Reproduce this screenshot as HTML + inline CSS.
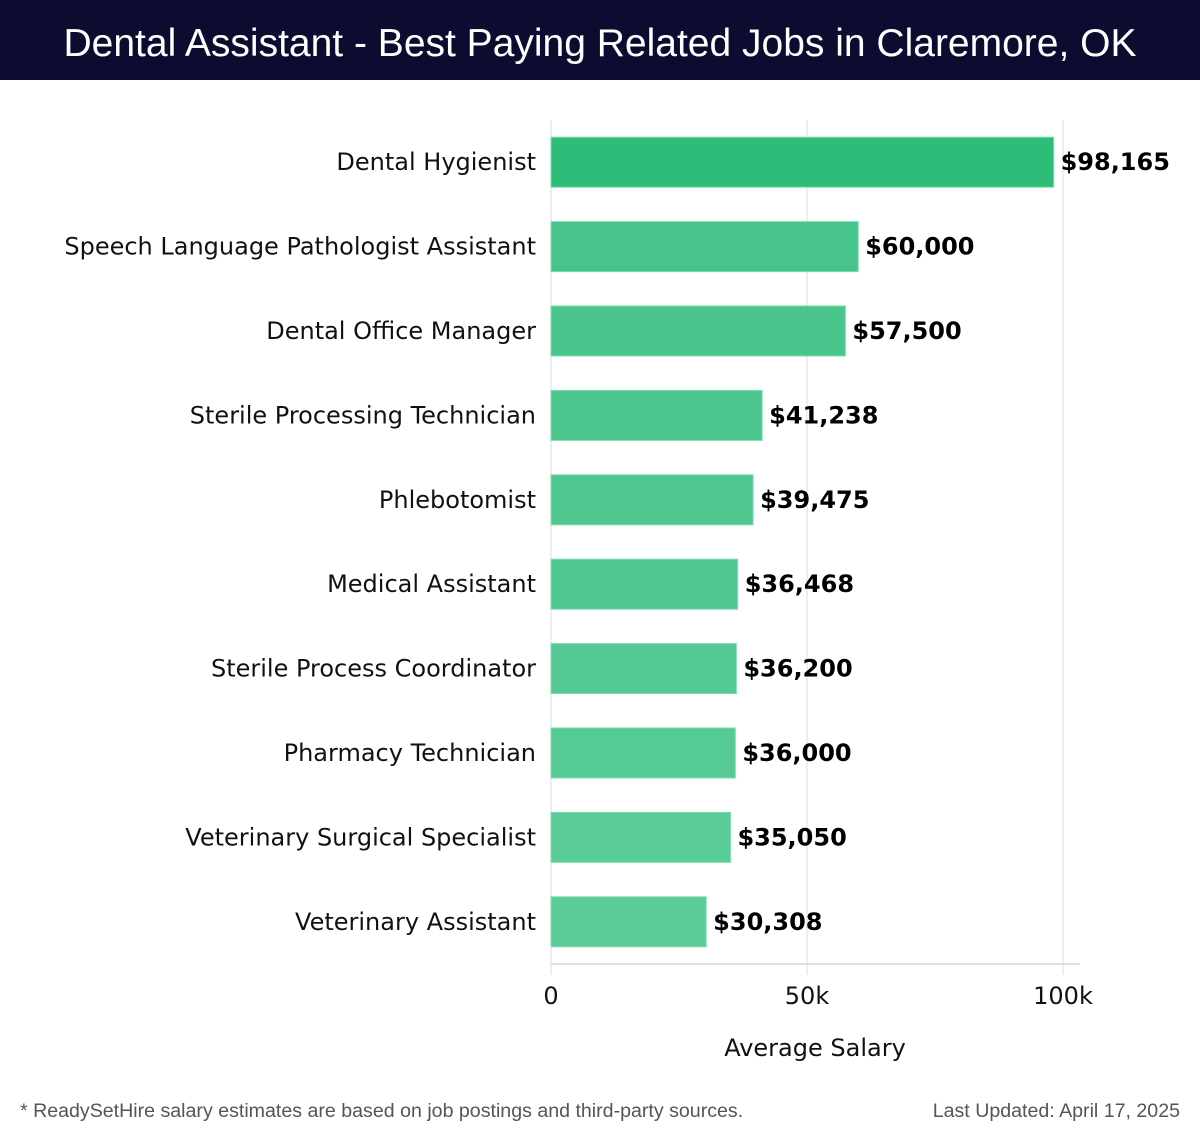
<!DOCTYPE html>
<html><head><meta charset="utf-8"><style>
body{margin:0;width:1200px;height:1140px;background:#fff;overflow:hidden;font-family:"DejaVu Sans","Liberation Sans",sans-serif;}
#title{position:absolute;left:0;top:0;width:1200px;height:80px;background:#0b0c30;color:#fff;font-family:"Liberation Sans",sans-serif;font-size:39px;font-weight:300;line-height:88px;text-align:center;}
.foot{position:absolute;top:1100px;font-family:"Liberation Sans",sans-serif;font-size:19.6px;color:#555;}
</style></head><body>
<div id="title">Dental Assistant - Best Paying Related Jobs in Claremore, OK</div>
<svg id="chart" width="1200" height="1140" style="position:absolute;left:0;top:0"></svg>
<div class="foot" style="left:20px">* ReadySetHire salary estimates are based on job postings and third-party sources.</div>
<div class="foot" style="right:20px">Last Updated: April 17, 2025</div>
<script>
const categories=["Dental Hygienist","Speech Language Pathologist Assistant","Dental Office Manager","Sterile Processing Technician","Phlebotomist","Medical Assistant","Sterile Process Coordinator","Pharmacy Technician","Veterinary Surgical Specialist","Veterinary Assistant"];
const values=[98165,60000,57500,41238,39475,36468,36200,36000,35050,30308];
const valueLabels=["$98,165","$60,000","$57,500","$41,238","$39,475","$36,468","$36,200","$36,000","$35,050","$30,308"];
const ticks=[0,50000,100000];
const tickLabels=["0","50k","100k"];
const NS="http://www.w3.org/2000/svg";
const svg=document.getElementById('chart');
const x0=551,x1=1063,plotTop=120,plotBottom=964;
const xs=v=>x0+(v/100000)*(x1-x0);
const band=(plotBottom-plotTop)/categories.length;
const ys=i=>plotTop+band*i+band/2;
function mk(t,a){const e=document.createElementNS(NS,t);for(const k in a)e.setAttribute(k,a[k]);svg.appendChild(e);return e;}
ticks.forEach((t,i)=>{
 const g=mk('line',{x1:xs(t),x2:xs(t),y1:plotTop,y2:975,stroke:'#dcdcdc','stroke-width':1});
 
 
 const tl=mk('text',{x:xs(t),y:1004,'text-anchor':'middle','font-size':24,fill:'#111'});
 tl.textContent=tickLabels[i];
 
 
});
const ax=mk('line',{x1:x0,x2:1080,y1:plotBottom,y2:plotBottom,stroke:'#d6d6d6','stroke-width':1.5});


const at=mk('text',{x:815,y:1056,'text-anchor':'middle','font-size':24,fill:'#111'});
at.textContent='Average Salary';


const cols=['#2ebd78','#47c48a','#49c58b','#4cc68d','#4fc78f','#52c891','#54c993','#56ca95','#58cb96','#5bcc98'];
categories.forEach((c,i)=>{
 const y=ys(i);
 const r=mk('rect',{x:x0,y:y-25,width:xs(values[i])-x0,height:50,fill:cols[i],stroke:'#7fdcb0','stroke-width':1});
 
 
 const l=mk('text',{x:536,y:y+8,'text-anchor':'end','font-size':24,fill:'#111'});
 l.textContent=c;
 
 
 const v=mk('text',{x:xs(values[i])+7,y:y+8,'font-size':24,'font-weight':'bold',fill:'#000'});
 v.textContent=valueLabels[i];
 
 
});
</script>
</body></html>
